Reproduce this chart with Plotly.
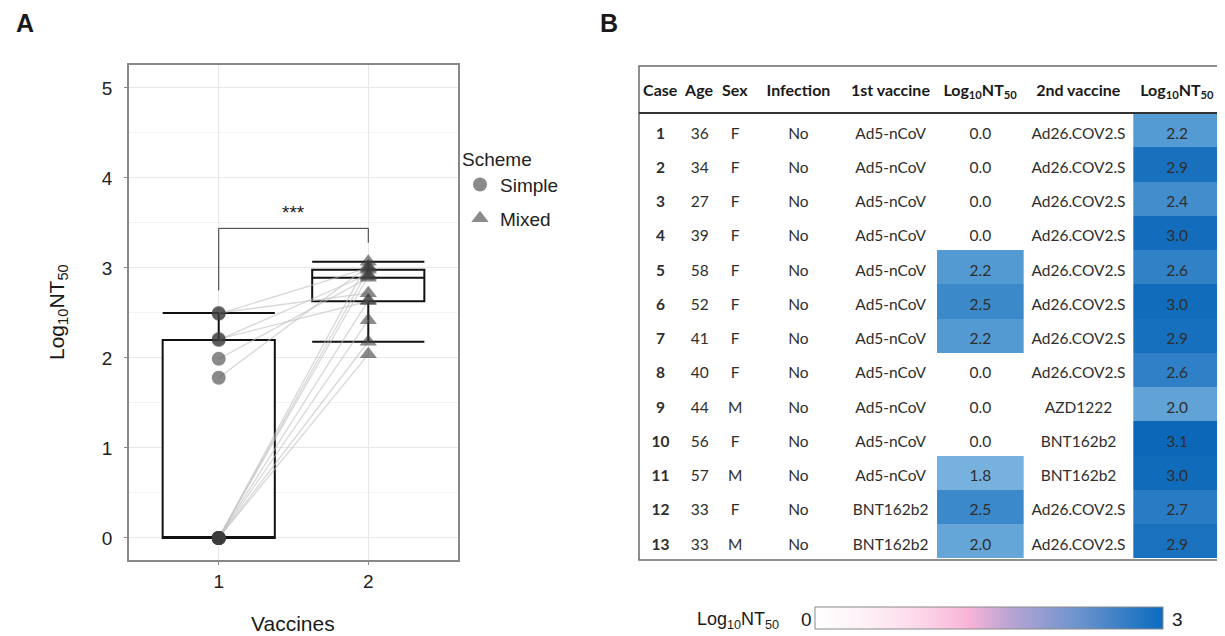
import plotly.graph_objects as go
from plotly.colors import sample_colorscale

# ---------------- data ----------------
cases = [1, 2, 3, 4, 5, 6, 7, 8, 9, 10, 11, 12, 13]
ages = [36, 34, 27, 39, 58, 52, 41, 40, 44, 56, 57, 33, 33]
sexes = ["F", "F", "F", "F", "F", "F", "F", "F", "M", "F", "M", "F", "M"]
infection = ["No"] * 13
first_vaccine = ["Ad5-nCoV"] * 11 + ["BNT162b2", "BNT162b2"]
second_vaccine = ["Ad26.COV2.S"] * 8 + ["AZD1222", "BNT162b2", "BNT162b2",
                                        "Ad26.COV2.S", "Ad26.COV2.S"]
# Log10 NT50 after dose 1 (Simple) and dose 2 (Mixed)
nt50_dose1 = [0.0, 0.0, 0.0, 0.0, 2.21, 2.49, 2.20, 0.0, 0.0, 0.0, 1.78, 2.50, 1.99]
nt50_dose2 = [2.18, 2.91, 2.42, 2.98, 2.63, 3.00, 2.93, 2.64, 2.04, 3.07, 3.02, 2.72, 2.89]
vaccine_doses = [1, 2]
scheme_names = ["Simple", "Mixed"]
header_labels = ["Case", "Age", "Sex", "Infection", "1st\u00a0vaccine",
                 "Log<sub>10</sub>NT<sub>50</sub>", "2nd\u00a0vaccine",
                 "Log<sub>10</sub>NT<sub>50</sub>"]

# page has an 8px body margin: map reference pixels into figure paper coords
OFF = 8
W, H = 1225 - OFF, 636 - OFF
def px(x): return (x - OFF) / W
def py(y): return 1 - (y - OFF) / H

FONT = "Arial, Liberation Sans, sans-serif"
TFONT = "Lato, Carlito, sans-serif"

fig = go.Figure()

# ---------------- Panel A ----------------
box_style = dict(width=0.75, whiskerwidth=1, fillcolor="white",
                 line=dict(color="#111111", width=2),
                 boxpoints="outliers", quartilemethod="inclusive",
                 marker=dict(color="rgba(0,0,0,0)", size=1),
                 showlegend=False, hoverinfo="skip")
fig.add_trace(go.Box(x=[vaccine_doses[0]] * len(nt50_dose1), y=nt50_dose1, **box_style))
fig.add_trace(go.Box(x=[vaccine_doses[1]] * len(nt50_dose2), y=nt50_dose2, **box_style))

# paired lines
lx, ly = [], []
for a, b in zip(nt50_dose1, nt50_dose2):
    lx += [vaccine_doses[0], vaccine_doses[1], None]
    ly += [a, b, None]
fig.add_trace(go.Scatter(x=lx, y=ly, mode="lines",
                         line=dict(color="rgba(190,190,190,0.6)", width=1.3),
                         showlegend=False, hoverinfo="skip"))

fig.add_trace(go.Scatter(x=[vaccine_doses[0]] * len(nt50_dose1), y=nt50_dose1,
                         mode="markers", name=scheme_names[0], legendgroup="g1",
                         marker=dict(symbol="circle", size=14,
                                     color="rgba(60,60,60,0.6)")))
fig.add_trace(go.Scatter(x=[vaccine_doses[1]] * len(nt50_dose2), y=nt50_dose2,
                         mode="markers", name=scheme_names[1], legendgroup="g2",
                         marker=dict(symbol="triangle-up", size=15,
                                     color="rgba(60,60,60,0.6)")))

# colorbar holder
cb_scale = [[0.0, "#ffffff"], [0.15, "#fdf0f6"], [0.3, "#fcd8e9"],
            [0.44, "#f9b4d7"], [0.56, "#b9a4d3"], [0.75, "#6f94cd"],
            [1.0, "#0b6cc0"]]
fig.add_trace(go.Scatter(x=[None], y=[None], mode="markers", showlegend=False,
                         hoverinfo="skip",
                         marker=dict(color=[0], cmin=0, cmax=3, colorscale=cb_scale,
                                     showscale=True,
                                     colorbar=dict(orientation="h",
                                                   x=px((815 + 1163) / 2), xanchor="center",
                                                   y=py(630), yanchor="bottom",
                                                   len=348, lenmode="pixels",
                                                   thickness=22, xpad=0, ypad=0,
                                                   outlinecolor="#8a8a8a", outlinewidth=1,
                                                   showticklabels=False, ticks=""))))

# ---------------- Panel B: table ----------------
cell_scale = [[0.0, "#8ec2e7"], [1.0, "#0966b8"]]
def cell_color(v):
    if v == 0:
        return "white"
    t = min(max((v - 1.5) / (3.1 - 1.5), 0), 1)
    return sample_colorscale(cell_scale, [t])[0]

d1_txt = [f"{v:.1f}" for v in nt50_dose1]
d2_txt = [f"{v:.1f}" for v in nt50_dose2]
n = len(cases)
fills = [["white"] * n] * 5 + [[cell_color(v) for v in nt50_dose1]] + \
        [["white"] * n] + [[cell_color(v) for v in nt50_dose2]]
col_widths = [43, 36, 35, 92, 93, 87, 110, 88]
HEADER_H, ROW_H = 47, 34.25
TEXT_DROP = 6  # text sits lower inside each row than Plotly's top-aligned cell text

# cell background layer
fig.add_trace(go.Table(
    domain=dict(x=[px(639), px(1221)], y=[py(600), py(66)]),
    columnwidth=col_widths,
    header=dict(values=[""] * len(header_labels), height=HEADER_H,
                fill=dict(color="white"), line=dict(width=0, color="white")),
    cells=dict(values=[[""] * n for _ in header_labels], height=ROW_H,
               fill=dict(color=fills), line=dict(width=0, color="rgba(0,0,0,0)")),
    hoverinfo="skip"))

# text layer
body_weight = ["bold"] + ["normal"] * 7
fig.add_trace(go.Table(
    domain=dict(x=[px(639), px(1221)], y=[py(606), py(66 + TEXT_DROP)]),
    columnwidth=col_widths,
    header=dict(values=[f"<b>{h}</b>" for h in header_labels],
                height=HEADER_H, align="center",
                fill=dict(color="rgba(0,0,0,0)"), line=dict(width=0, color="rgba(0,0,0,0)"),
                font=dict(family=TFONT, size=16, color="#1a1a1a")),
    cells=dict(values=[cases, ages, sexes, infection,
                       first_vaccine, d1_txt, second_vaccine, d2_txt],
               height=ROW_H, align="center",
               fill=dict(color="rgba(0,0,0,0)"), line=dict(width=0, color="rgba(0,0,0,0)"),
               font=dict(family=TFONT, size=15.5, color="#2e2e2e", weight=body_weight)),
    hoverinfo="skip"))

# ---------------- layout ----------------
axis_common = dict(showline=True, mirror=True, linecolor="#888888", linewidth=1.5,
                   ticks="outside", ticklen=3, tickcolor="#888888",
                   tickfont=dict(family=FONT, size=19, color="#222222"),
                   gridcolor="#e8e8e8", gridwidth=1, zeroline=False)
fig.update_layout(
    width=W, height=H, margin=dict(l=0, r=0, t=0, b=0),
    paper_bgcolor="white", plot_bgcolor="white",
    xaxis=dict(domain=[px(129), px(458)], range=[0.4, 2.6], tickvals=vaccine_doses,
               **axis_common),
    yaxis=dict(domain=[py(560), py(65)], range=[-0.245, 5.255], dtick=1,
               ticklabelstandoff=8,
               minor=dict(dtick=0.5, showgrid=True, gridcolor="#f3f3f3"),
               **axis_common),
    legend=dict(x=px(460), y=py(141), xanchor="left", yanchor="top",
                traceorder="grouped", tracegroupgap=6,
                title=dict(text="Scheme", font=dict(family=FONT, size=19, color="#222")),
                font=dict(family=FONT, size=19, color="#222"),
                bgcolor="rgba(0,0,0,0)"),
    font=dict(family=FONT),
    showlegend=True,
)

# significance bracket
fig.add_shape(type="path", xref="x", yref="y",
              path="M 1,2.75 L 1,3.44 L 2,3.44 L 2,3.28",
              line=dict(color="#333333", width=1))
fig.add_annotation(x=1.5, y=3.62, xref="x", yref="y", text="***", showarrow=False,
                   xanchor="center", yanchor="middle",
                   font=dict(family=FONT, size=19, color="#222"))

# table borders
fig.add_shape(type="rect", xref="paper", yref="paper",
              x0=px(639), x1=px(1221), y0=py(560), y1=py(66),
              line=dict(color="#6a6a6a", width=1.5))
fig.add_shape(type="line", xref="paper", yref="paper",
              x0=px(639), x1=px(1221), y0=py(113), y1=py(113),
              line=dict(color="#333333", width=2))

# texts
def label(x, y, text, size, angle=0):
    fig.add_annotation(x=px(x), y=py(y), xref="paper", yref="paper", text=text,
                       textangle=angle, showarrow=False, xanchor="center",
                       yanchor="middle", font=dict(family=FONT, size=size, color="#1a1a1a"))

label(58, 312, "Log<sub>10</sub>NT<sub>50</sub>", 21, -90)
label(293, 623, "Vaccines", 21)
label(25, 23, "<b>A</b>", 25)
label(609, 23, "<b>B</b>", 25)
label(738, 620, "Log<sub>10</sub>NT<sub>50</sub>", 18)
label(806, 619, "0", 19)
label(1177, 619, "3", 19)

fig.write_html("out.html")
